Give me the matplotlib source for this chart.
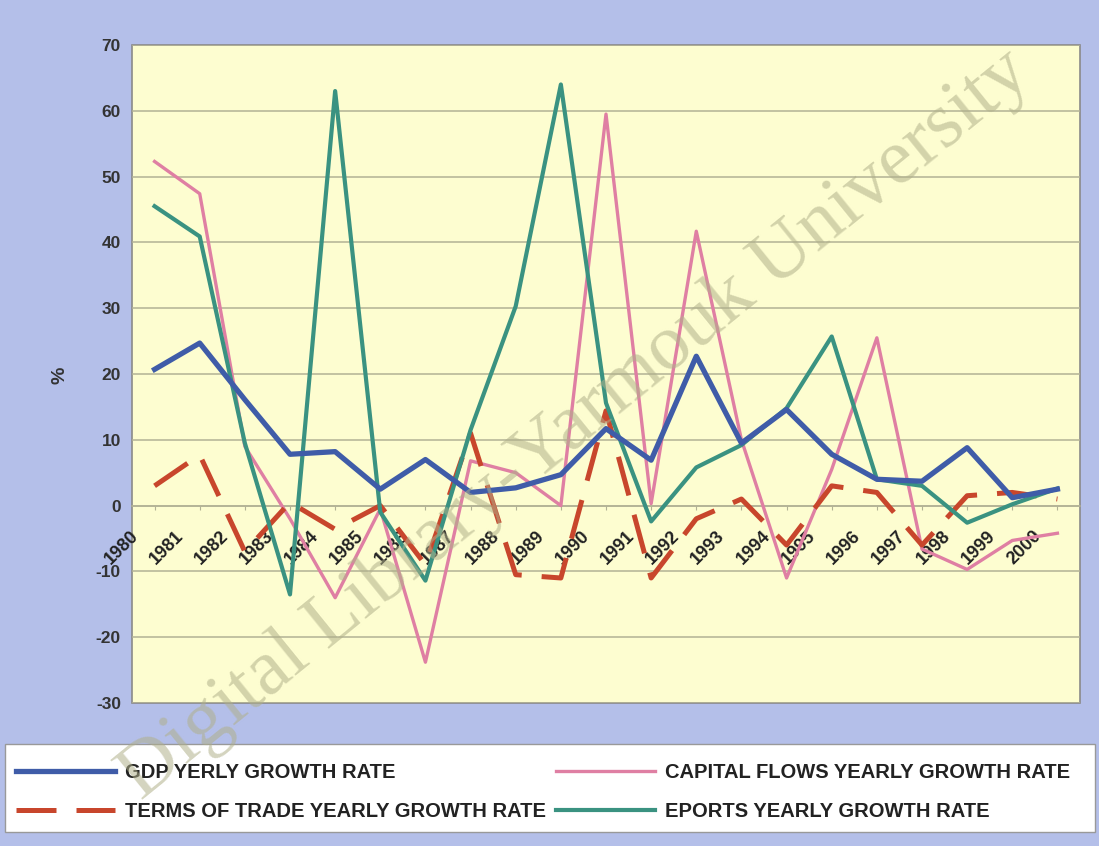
import numpy as np
import matplotlib
matplotlib.use("Agg")
import matplotlib.pyplot as plt
import matplotlib.transforms as mtransforms
from matplotlib.patches import Rectangle

plt.rcParams["axes.unicode_minus"] = False

# ── Data ──────────────────────────────────────────────────────────────────────
years = [str(y) for y in range(1980, 2001)]

gdp = [20.7, 24.7, 16.1, 7.8, 8.2, 2.5, 7.0, 2.0, 2.7, 4.7, 11.7,
       6.9, 22.7, 9.5, 14.6, 7.8, 4.0, 3.7, 8.8, 1.2, 2.5]
capital = [52.3, 47.4, 9.0, -2.0, -14.0, -0.5, -23.8, 6.8, 5.0, 0.0, 59.5,
           0.3, 41.7, 10.0, -11.0, 5.5, 25.5, -6.6, -9.7, -5.3, -4.2]
terms = [3.0, 7.7, -7.0, 0.5, -3.6, 0.0, -9.0, 11.0, -10.5, -11.0, 14.4,
         -11.0, -2.0, 1.0, -6.0, 3.0, 2.0, -6.0, 1.5, 2.0, 1.0]
exports = [45.5, 40.9, 9.5, -13.5, 63.0, -1.0, -11.4, 11.5, 30.3, 64.0, 15.6,
           -2.4, 5.8, 9.2, 14.8, 25.7, 4.0, 3.0, -2.6, 0.2, 2.6]

labels = ["GDP YERLY GROWTH RATE", "TERMS OF TRADE YEARLY GROWTH RATE",
          "CAPITAL FLOWS YEARLY GROWTH RATE", "EPORTS YEARLY GROWTH RATE"]

# ── Figure ────────────────────────────────────────────────────────────────────
W, H = 1099, 846
fig = plt.figure(figsize=(W / 100, H / 100), dpi=100)
fig.patch.set_facecolor("#b4bfe9")

ax = fig.add_axes([132 / W, 1 - 703 / H, (1080 - 132) / W, (703 - 45) / H])
ax.set_facecolor("#fdfdd0")
ax.patch.set_edgecolor("#8a8a8a")
ax.patch.set_linewidth(1.2)

x = np.arange(len(years))
l_gdp, = ax.plot(x, gdp, color="#3f5ca8", lw=3.8, zorder=5)
l_terms, = ax.plot(x, terms, color="#c8462c", lw=3.6, zorder=4,
                   dashes=(8, 4), solid_capstyle="butt")
l_cap, = ax.plot(x, capital, color="#df7fa3", lw=2.4, zorder=3)
l_exp, = ax.plot(x, exports, color="#3a9281", lw=3.0, zorder=4)

ax.set_xlim(-0.5, len(years) - 0.5)
ax.set_ylim(-30, 70)
ax.set_yticks(np.arange(-30, 71, 10))
ax.yaxis.grid(True, color="#b2b294", lw=1.1)
ax.set_axisbelow(True)

for s in ["left", "right", "top"]:
    ax.spines[s].set_visible(False)
ax.spines["bottom"].set_position(("data", 0))
ax.spines["bottom"].set_color("#b2b294")
ax.spines["bottom"].set_linewidth(1.1)

ax.set_xticks(x)
ax.set_xticklabels(years, rotation=45, ha="right", va="top",
                   rotation_mode="anchor", fontsize=13, fontweight="bold",
                   family="Liberation Sans", color="#222222")
ax.tick_params(axis="x", length=3, color="#b2b294", pad=4)
shift = mtransforms.ScaledTranslation(-0.25, -0.12, fig.dpi_scale_trans)
for t in ax.get_xticklabels():
    t.set_transform(t.get_transform() + shift)

ax.tick_params(axis="y", length=0, pad=8, labelsize=12.5, labelcolor="#333333")
for t in ax.get_yticklabels():
    t.set_fontweight("bold")
    t.set_family("Liberation Sans")

fig.text(60 / W, 1 - 375 / H, "%", rotation=90, fontsize=14, fontweight="bold",
         family="Liberation Sans", color="#333333", ha="center", va="center")

# ── Legend ────────────────────────────────────────────────────────────────────
fig.patches.append(Rectangle((5 / W, 1 - 832 / H), 1090 / W, 88 / H,
                             transform=fig.transFigure, facecolor="white",
                             edgecolor="#999999", lw=1.0, zorder=1))
leg = fig.legend([l_gdp, l_terms, l_cap, l_exp], labels, ncol=2,
                 loc="upper left", bbox_to_anchor=(6 / W, 1 - 753 / H),
                 frameon=False, borderpad=0.0,
                 handlelength=4.9, handletextpad=0.5, columnspacing=0.5,
                 labelspacing=1.0,
                 prop={"family": "Liberation Sans", "weight": "bold",
                       "size": 14.5})
leg.set_zorder(2)
for t in leg.get_texts():
    t.set_color("#222222")

# ── Watermark ─────────────────────────────────────────────────────────────────
fig.text(575 / W, 1 - 425 / H, "Digital Library-Yarmouk University",
         rotation=39, rotation_mode="anchor", ha="center", va="center",
         fontsize=57, family="Liberation Serif", color="#b0b08a", alpha=0.55,
         zorder=20)

fig.savefig("out.png", dpi=100, facecolor=fig.get_facecolor())
